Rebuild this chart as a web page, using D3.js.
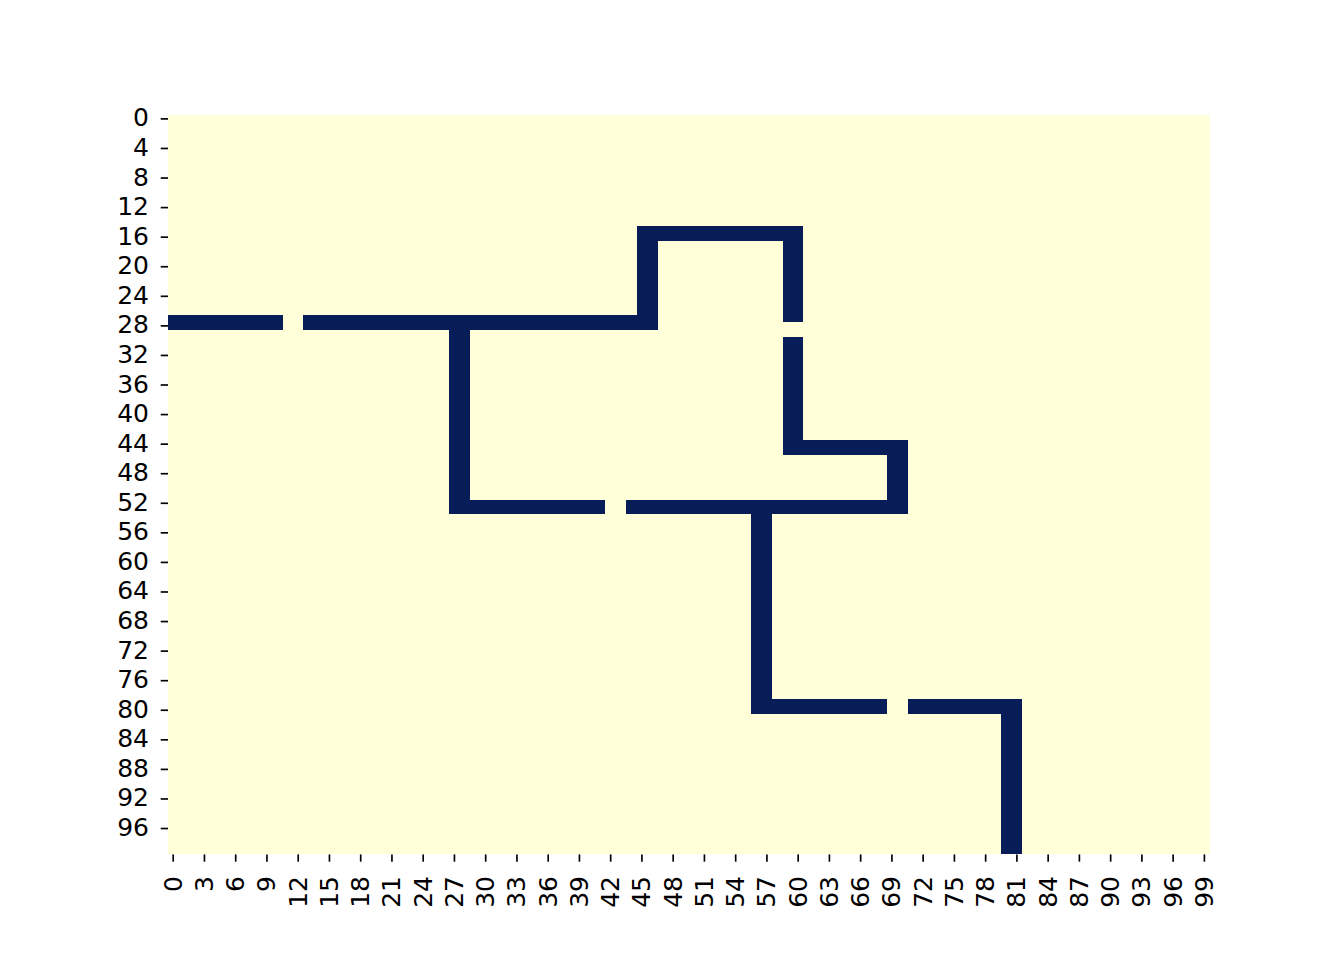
<!DOCTYPE html>
<html>
<head>
<meta charset="utf-8">
<script src="https://cdn.jsdelivr.net/npm/d3@7"></script>
<style>
  html, body { margin: 0; padding: 0; background: #ffffff; }
  svg { display: block; }
</style>
</head>
<body>
<script>
// ---- data ----
const nRows = 100;
const nCols = 100;
// path segments (cell index ranges, inclusive) where the grid value is 1
const segRowStart = [27, 27, 15, 15, 15, 30, 44, 44, 27, 52, 52, 52, 79, 79, 79];
const segRowEnd   = [28, 28, 28, 16, 27, 45, 45, 53, 53, 53, 53, 80, 80, 80, 99];
const segColStart = [ 0, 13, 45, 45, 59, 59, 59, 69, 27, 27, 44, 56, 56, 71, 80];
const segColEnd   = [10, 46, 46, 60, 60, 60, 70, 70, 28, 41, 70, 57, 68, 81, 81];
const yTickLabels = [0, 4, 8, 12, 16, 20, 24, 28, 32, 36, 40, 44, 48, 52, 56, 60, 64, 68, 72, 76, 80, 84, 88, 92, 96];
const xTickLabels = [0, 3, 6, 9, 12, 15, 18, 21, 24, 27, 30, 33, 36, 39, 42, 45, 48, 51, 54, 57, 60, 63, 66, 69, 72, 75, 78, 81, 84, 87, 90, 93, 96, 99];

// build grid values
const grid = [];
for (let r = 0; r < nRows; r++) {
  for (let c = 0; c < nCols; c++) grid.push({ r, c, v: 0 });
}
segRowStart.forEach((_, i) => {
  for (let r = segRowStart[i]; r <= segRowEnd[i]; r++)
    for (let c = segColStart[i]; c <= segColEnd[i]; c++)
      grid[r * nCols + c].v = 1;
});

// ---- layout ----
const W = 1344, H = 960;
const mLeft = 168, mRight = 1209.6, mTop = 115.2, mBottom = 854.4;
const fs = 25;
const tickLen = 7.29, tickW = 1.67;

const svg = d3.select("body").append("svg").attr("width", W).attr("height", H);

const x = d3.scaleBand().domain(d3.range(nCols)).range([mLeft, mRight]).padding(0);
const y = d3.scaleBand().domain(d3.range(nRows)).range([mTop, mBottom]).padding(0);
const color = d3.scaleSequential(d3.interpolateYlGnBu).domain([0, 1]);

svg.append("g").attr("shape-rendering", "crispEdges")
  .selectAll("rect").data(grid).join("rect")
  .attr("x", d => x(d.c))
  .attr("y", d => y(d.r))
  .attr("width", x.bandwidth())
  .attr("height", y.bandwidth())
  .attr("fill", d => color(d.v));

// y axis
const yAxis = svg.append("g").attr("transform", `translate(${mLeft},0)`)
  .call(d3.axisLeft(y).tickValues(yTickLabels).tickSize(tickLen).tickPadding(11.7));
yAxis.select(".domain").remove();
yAxis.selectAll(".tick line").attr("stroke", "#000").attr("stroke-width", tickW);
yAxis.selectAll(".tick text")
  .attr("font-family", "DejaVu Sans").attr("font-size", fs).attr("fill", "#000")
  .attr("dy", "0.3em");

// x axis
const xAxis = svg.append("g").attr("transform", `translate(0,${mBottom})`)
  .call(d3.axisBottom(x).tickValues(xTickLabels).tickSize(tickLen).tickPadding(7));
xAxis.select(".domain").remove();
xAxis.selectAll(".tick line").attr("stroke", "#000").attr("stroke-width", tickW);
xAxis.selectAll(".tick text")
  .attr("font-family", "DejaVu Sans").attr("font-size", fs).attr("fill", "#000")
  .attr("y", null).attr("dy", null)
  .attr("text-anchor", "end")
  .attr("dominant-baseline", "central")
  .attr("transform", `translate(0,21.6) rotate(-90)`);
</script>
</body>
</html>
